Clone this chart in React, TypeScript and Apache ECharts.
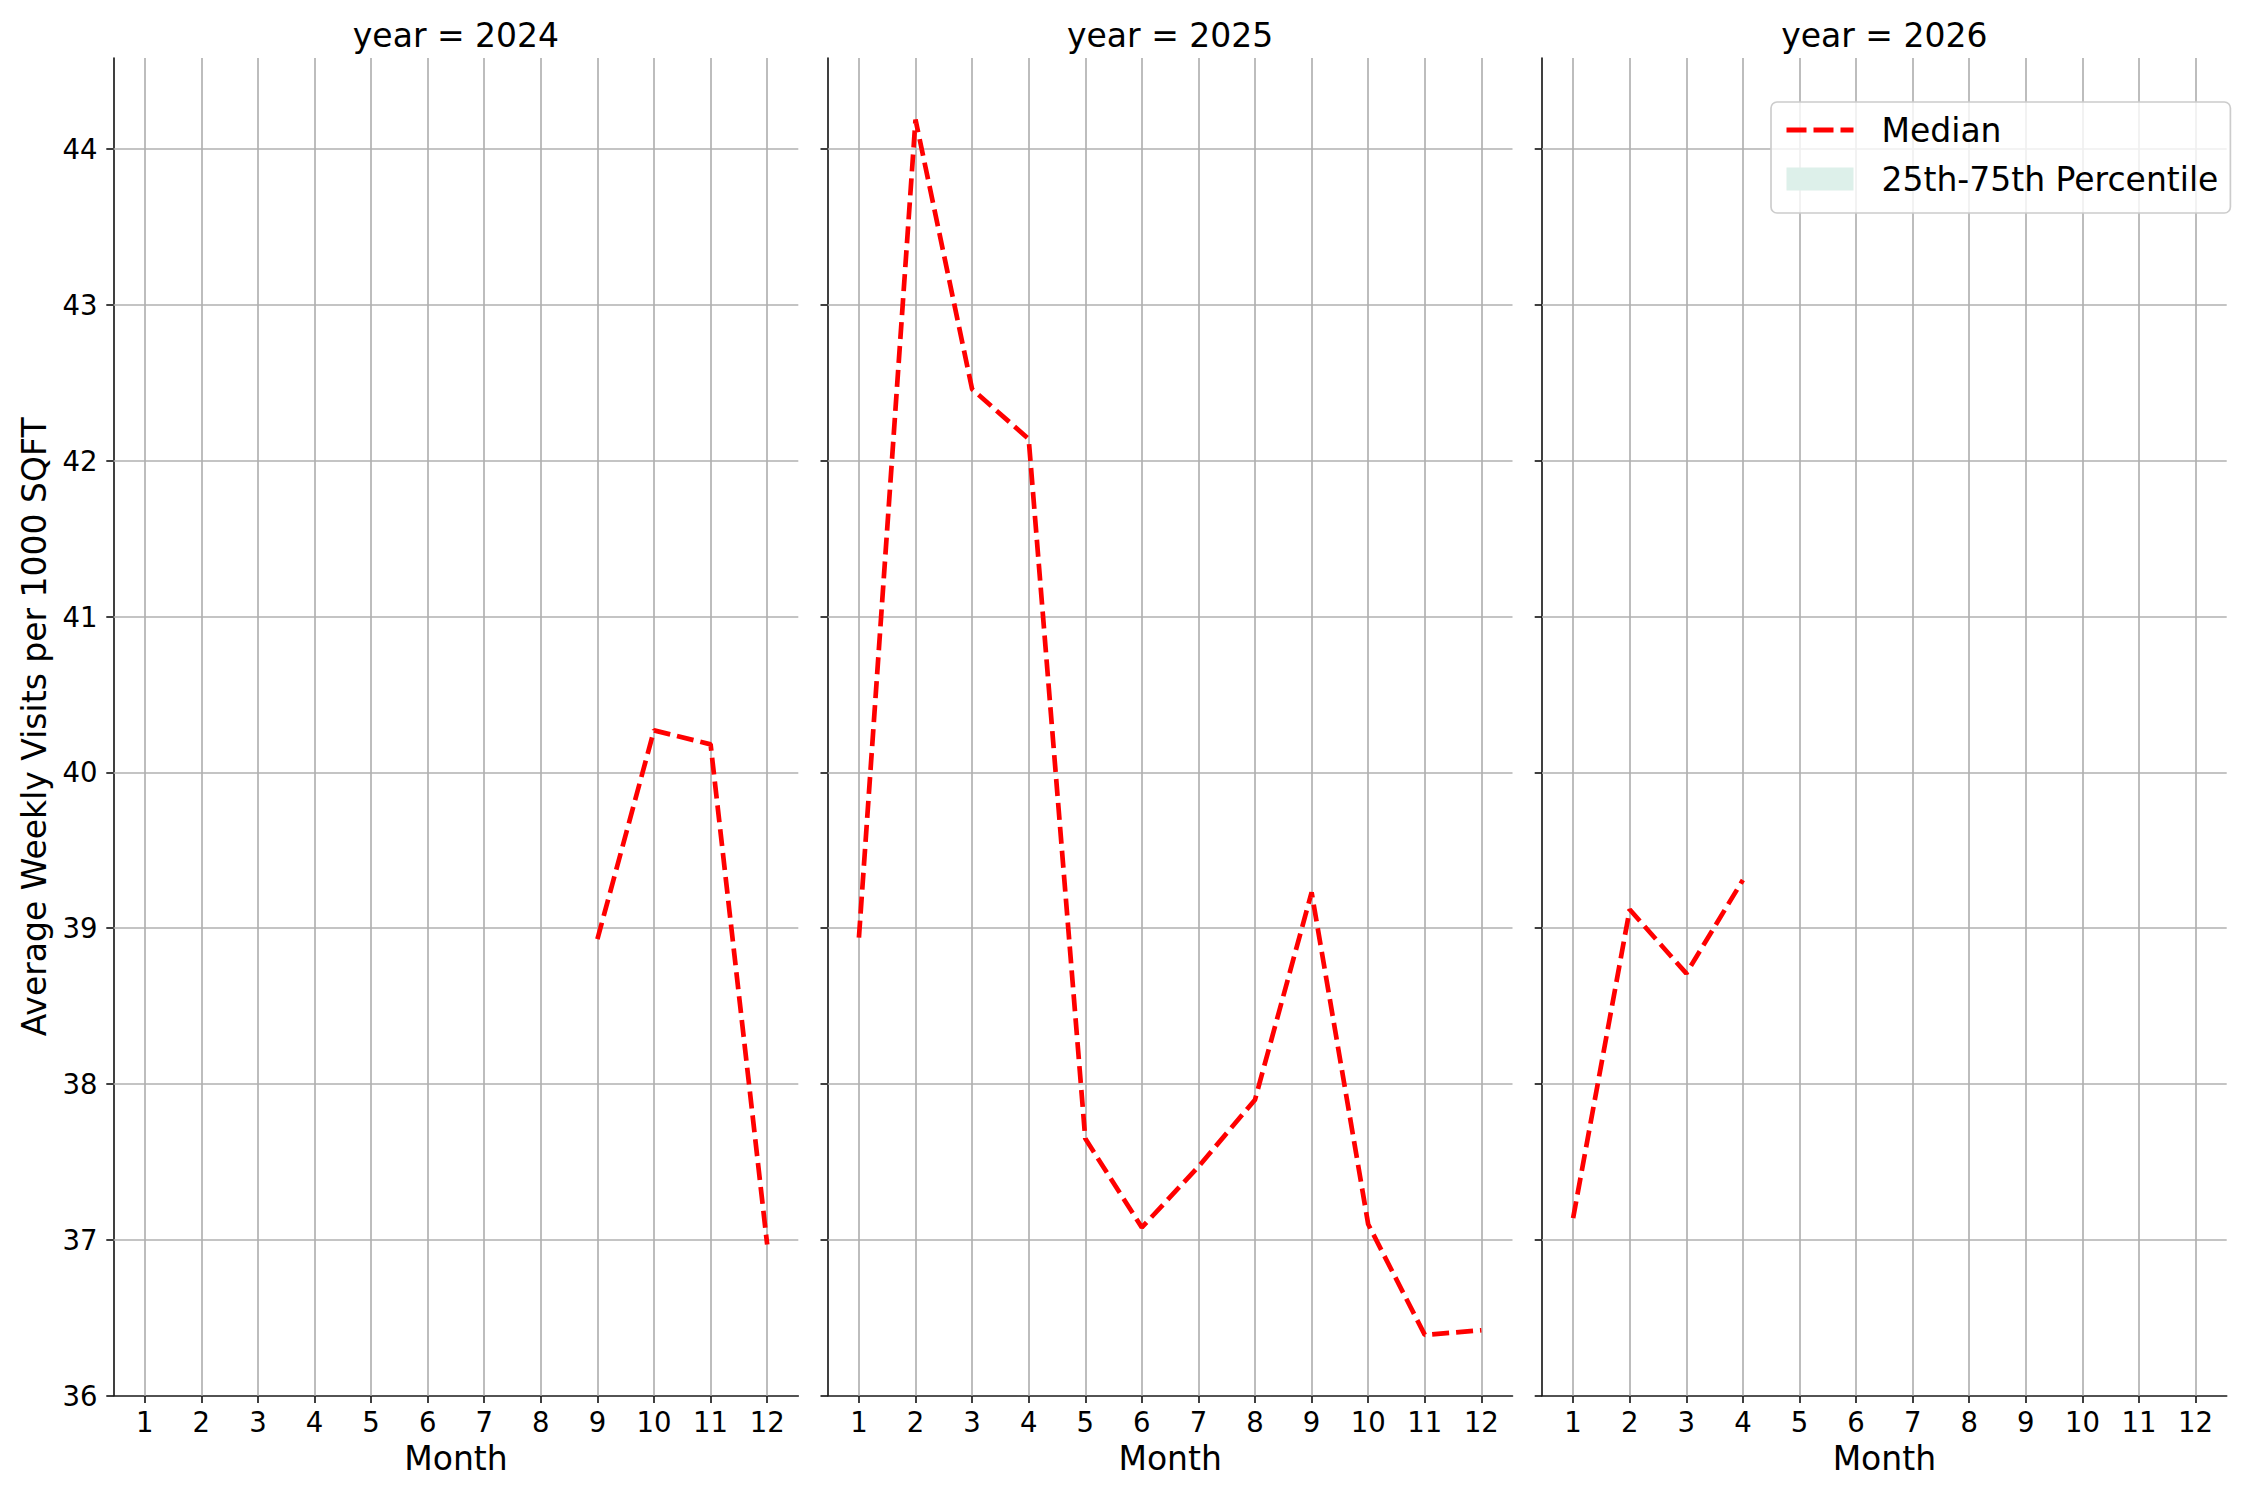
import React, { useEffect, useRef } from "react";
import * as echarts from "echarts";

const YEARS = [2024, 2025, 2026];
const MONTHS_2024 = [9, 10, 11, 12];
const MEDIAN_2024 = [38.93, 40.27, 40.18, 36.97];
const MONTHS_2025 = [1, 2, 3, 4, 5, 6, 7, 8, 9, 10, 11, 12];
const MEDIAN_2025 = [38.94, 44.19, 42.46, 42.14, 37.65, 37.08, 37.47, 37.9, 39.23, 37.1, 36.39, 36.42];
const MONTHS_2026 = [1, 2, 3, 4];
const MEDIAN_2026 = [37.14, 39.12, 38.71, 39.31];
const MONTH_TICKS = [1, 2, 3, 4, 5, 6, 7, 8, 9, 10, 11, 12];
const Y_TICKS = [36, 37, 38, 39, 40, 41, 42, 43, 44];
const X_RANGE = [0.45, 12.55];
const Y_RANGE = [36, 44.585];
const SERIES_NAMES = ["Median", "25th-75th Percentile"];

const PANEL_MONTHS = [MONTHS_2024, MONTHS_2025, MONTHS_2026];
const PANEL_MEDIAN = [MEDIAN_2024, MEDIAN_2025, MEDIAN_2026];

const FONT = "DejaVu Sans";
const PANEL_LEFT = [113.6, 827.8, 1542];
const PANEL_W = 684.7;
const PANEL_TOP = 58;
const PANEL_H = 1337.7;
const SPINE = "#1a1a1a";
const GRID_C = "#b0b0b0";

export default function App() {
  const ref = useRef<HTMLDivElement>(null);
  useEffect(() => {
    if (!ref.current) return;
    const chart = echarts.init(ref.current, undefined, { renderer: "svg" });
    const grids = PANEL_LEFT.map((l) => ({
      left: l,
      top: PANEL_TOP,
      width: PANEL_W,
      height: PANEL_H,
      containLabel: false,
      outerBoundsMode: "none",
    }));
    const xAxes = YEARS.map((_, i) => ({
      type: "value",
      gridIndex: i,
      min: X_RANGE[0],
      max: X_RANGE[1],
      splitLine: { show: false },
      axisLine: { show: true, onZero: false, lineStyle: { color: SPINE, width: 1.67 } },
      axisTick: { show: true, customValues: MONTH_TICKS, length: 7.3, lineStyle: { color: SPINE, width: 1.67 } },
      axisLabel: { customValues: MONTH_TICKS, fontSize: 27.5, color: "#000", margin: 12, fontFamily: FONT },
      name: "Month",
      nameLocation: "middle",
      nameGap: 46,
      nameTextStyle: { fontSize: 33, color: "#000", fontFamily: FONT },
    }));
    const yAxes = YEARS.map((_, i) => ({
      type: "value",
      gridIndex: i,
      min: Y_RANGE[0],
      max: Y_RANGE[1],
      splitLine: { show: false },
      axisLine: { show: true, onZero: false, lineStyle: { color: SPINE, width: 1.67 } },
      axisTick: { show: true, customValues: Y_TICKS, length: 7.3, lineStyle: { color: SPINE, width: 1.67 } },
      axisLabel: { show: i === 0, customValues: Y_TICKS, fontSize: 27.5, color: "#000", margin: 16, fontFamily: FONT },
      name: i === 0 ? "Average Weekly Visits per 1000 SQFT" : "",
      nameLocation: "middle",
      nameGap: 63,
      nameTextStyle: { fontSize: 33, color: "#000", fontFamily: FONT },
    }));
    const gridSeries = YEARS.map((y, i) => ({
      type: "line",
      name: "grid" + y,
      xAxisIndex: i,
      yAxisIndex: i,
      data: [],
      silent: true,
      z: 1,
      markLine: {
        silent: true,
        z: 1,
        symbol: ["none", "none"],
        label: { show: false },
        emphasis: { disabled: true },
        lineStyle: { color: GRID_C, width: 1.67, type: "solid" },
        data: [
          ...MONTH_TICKS.map((m) => ({ xAxis: m })),
          ...Y_TICKS.filter((v) => v > Y_RANGE[0]).map((v) => ({ yAxis: v })),
        ],
      },
    }));
    const medianSeries = YEARS.map((_, i) => ({
      type: "line",
      name: SERIES_NAMES[0],
      xAxisIndex: i,
      yAxisIndex: i,
      z: 3,
      symbol: "none",
      showSymbol: false,
      data: PANEL_MONTHS[i].map((m, k) => [m, PANEL_MEDIAN[i][k]]),
      lineStyle: { color: "#ff0000", width: 4.7, type: [17, 7] },
      itemStyle: { color: "#ff0000" },
    }));
    const bandSeries = {
      type: "line",
      name: SERIES_NAMES[1],
      xAxisIndex: 2,
      yAxisIndex: 2,
      data: [],
      symbol: "none",
      lineStyle: { width: 0 },
      areaStyle: { color: "#ddf0ea" },
      itemStyle: { color: "#ddf0ea" },
    };
    chart.setOption({
      animation: false,
      textStyle: { fontFamily: FONT },
      title: YEARS.map((y, i) => ({
        text: "year = " + y,
        left: PANEL_LEFT[i] + PANEL_W / 2,
        top: 18.5,
        padding: 0,
        textAlign: "center",
        textStyle: { fontSize: 33, fontWeight: "normal", color: "#000", fontFamily: FONT },
      })),
      legend: {
        orient: "vertical",
        left: 1771,
        top: 102,
        padding: [11, 12, 17, 13],
        itemGap: 15,
        itemWidth: 67,
        itemHeight: 23,
        backgroundColor: "rgba(255,255,255,0.8)",
        borderColor: "#cccccc",
        borderWidth: 1.67,
        borderRadius: 6,
        textStyle: { fontSize: 33, color: "#000", fontFamily: FONT, lineHeight: 34, padding: [0, 0, 0, 23] },
        data: [
          {
            name: SERIES_NAMES[0],
            itemStyle: { opacity: 0, color: "rgba(0,0,0,0)", borderWidth: 0 },
            lineStyle: { color: "#ff0000", width: 5, type: [20, 7], opacity: 1 },
          },
          { name: SERIES_NAMES[1], icon: "rect", itemStyle: { color: "#ddf0ea" } },
        ],
      },
      grid: grids,
      xAxis: xAxes,
      yAxis: yAxes,
      series: [...gridSeries, ...medianSeries, bandSeries],
    });
    return () => chart.dispose();
  }, []);
  return (
    <div
      ref={ref}
      style={{ position: "fixed", left: 0, top: 0, width: 2250, height: 1500, background: "#fff" }}
    />
  );
}
